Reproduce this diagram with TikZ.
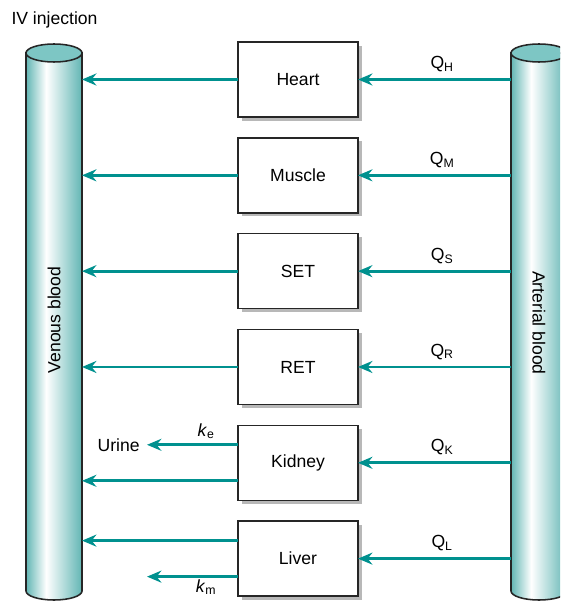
\documentclass[tikz,border=0pt]{standalone}
\usepackage{fontspec}
\setmainfont{Liberation Sans}
\usepackage{tikz}
\usetikzlibrary{arrows.meta,positioning,shadows}
\usepackage{xcolor}
\definecolor{flowteal}{RGB}{0,145,143}
\definecolor{cyldark}{RGB}{98,182,180}
\definecolor{cyltop}{RGB}{125,198,196}
\pgfdeclarehorizontalshading{cylshade}{100bp}{color(0bp)=(cyldark); color(25bp)=(cyldark); color(43bp)=(white); color(75bp)=(cyldark); color(100bp)=(cyldark)}
\tikzset{
  organ/.style={draw=black!85, line width=1.1pt, fill=white, minimum width=3cm, minimum height=1.875cm, outer sep=0pt,
    drop shadow={opacity=1, fill=black!28, shadow xshift=0.09cm, shadow yshift=-0.09cm}},
  flow/.style={draw=flowteal, line width=2pt, -{Stealth[length=0.36cm, width=0.3cm, inset=0.12cm]}},
  cylline/.style={draw=black!85, line width=1.1pt}
}

\begin{document}
\begin{tikzpicture}[x=0.025cm, y=-0.025cm, every node/.style={font=\fontsize{12.5}{14}\selectfont}]
\useasboundingbox (0,0) rectangle (560,603);
\clip (0,0) rectangle (560,603);
% blood vessels
\foreach \cx in {54,539} {
  \path[cylline, shading=cylshade] (\cx-28,53) -- (\cx-28,591)
    arc[start angle=180, end angle=360, x radius=0.7cm, y radius=0.225cm] -- (\cx+28,53) -- cycle;
  \draw[cylline, fill=cyltop] (\cx,53) ellipse [x radius=0.7cm, y radius=0.225cm];
}
\coordinate (venous) at (82,0);
\coordinate (arterial) at (511,0);
\coordinate (excreted) at (147,0);
\node (iv) at (54.5,20) {IV injection};
\node[rotate=90] (venlabel) at (54,320) {Venous blood};
\node[rotate=-90] (artlabel) at (539,323) {Arterial blood};
% tissue compartments
\node[organ] (heart) at (298,79.5) {Heart};
\node[organ, below=0.52cm of heart] (muscle) {Muscle};
\node[organ, below=0.52cm of muscle] (set) {SET};
\node[organ, below=0.52cm of set] (ret) {RET};
\node[organ, below=0.52cm of ret] (kidney) {Kidney};
\node[organ, below=0.52cm of kidney] (liver) {Liver};
% flows
\draw[flow] (heart.east -| arterial) -- node[above, pos=0.45, yshift=1pt]{Q\textsubscript{H}} (heart.east);
\draw[flow] (muscle.east -| arterial) -- node[above, pos=0.45, yshift=1pt]{Q\textsubscript{M}} (muscle.east);
\draw[flow] (set.east -| arterial) -- node[above, pos=0.45, yshift=1pt]{Q\textsubscript{S}} (set.east);
\draw[flow] (ret.east -| arterial) -- node[above, pos=0.45, yshift=1pt]{Q\textsubscript{R}} (ret.east);
\draw[flow] (kidney.east -| arterial) -- node[above, pos=0.45, yshift=1pt]{Q\textsubscript{K}} (kidney.east);
\draw[flow] (liver.east -| arterial) -- node[above, pos=0.45, yshift=1pt]{Q\textsubscript{L}} (liver.east);
\draw[flow] (heart.west) -- (heart.west -| venous);
\draw[flow] (muscle.west) -- (muscle.west -| venous);
\draw[flow] (set.west) -- (set.west -| venous);
\draw[flow] (ret.west) -- (ret.west -| venous);
% elimination
\node[anchor=east, inner sep=5pt] (urine) at ([yshift=0.45cm]kidney.west -| excreted) {Urine};
\draw[flow] ([yshift=0.45cm]kidney.west) -- node[above, pos=0.35]{\textit{k}\textsubscript{e}} (urine.east);
\draw[flow] ([yshift=-0.45cm]kidney.west) -- ([yshift=-0.45cm]kidney.west -| venous);
\draw[flow] ([yshift=0.45cm]liver.west) -- ([yshift=0.45cm]liver.west -| venous);
\draw[flow] ([yshift=-0.45cm]liver.west) -- node[below, pos=0.35, inner sep=1pt]{\textit{k}\textsubscript{m}} ([yshift=-0.45cm]liver.west -| excreted);
\end{tikzpicture}
\end{document}
